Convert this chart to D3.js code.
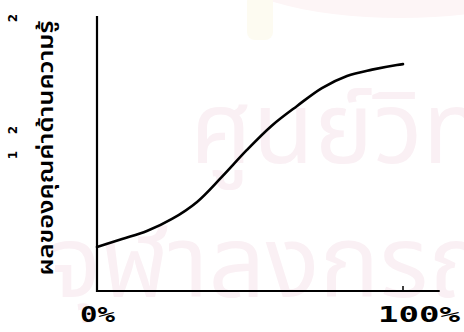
<!DOCTYPE html>
<html lang="th">
  <head>
    <meta charset="utf-8" />
    <title>Knowledge value curve</title>
    <script src="https://d3js.org/d3.v7.min.js"></script>
    <style>
      body { margin: 0; background: #fff; }
      svg { display: block; }
    </style>
  </head>
  <body>
    <div id="chart"></div>
    <script>
      // values (x in %, y in % of the axis height)
      var xPct = [0, 8.2, 16.3, 24.5, 32.7, 40.8, 49.0, 57.2, 65.4, 73.5, 81.7, 89.9, 98.0, 100];
      var yVal = [16.0, 18.9, 21.8, 26.2, 32.4, 41.5, 51.3, 60.2, 67.3, 73.8, 78.2, 80.5, 82.2, 82.5];
      var tickLabels = ["0%", "100%"];
      var yLabel = "ผลของคุณค่าด้านความรู้";

      var width = 464, height = 332;
      var thai = "'Noto Sans Thai', 'Noto Sans', 'DejaVu Sans', sans-serif";
      var mono = "'DejaVu Sans Mono', monospace";

      var svg = d3.select("#chart").append("svg")
        .attr("width", width)
        .attr("height", height);

      // faint library watermark of the scanned page
      var wm = svg.append("g");
      wm.append("ellipse")
        .attr("cx", 400).attr("cy", -34).attr("rx", 175).attr("ry", 52)
        .attr("fill", "#fdf5f6");
      wm.append("rect")
        .attr("x", 247).attr("y", -6).attr("width", 26).attr("height", 46).attr("rx", 8)
        .attr("fill", "#fdfbf1");
      wm.append("text")
        .attr("x", 190).attr("y", 163)
        .attr("fill", "#faf0f4")
        .style("font-family", thai)
        .style("font-size", "100px")
        .text("ศูนย์วิทย");
      wm.append("text")
        .attr("x", 48).attr("y", 297)
        .attr("fill", "#faf0f4")
        .style("font-family", thai)
        .style("font-size", "100px")
        .text("จุฬาลงกรณ์");

      var x = d3.scaleLinear().domain([0, 100]).range([97, 403]);
      var y = d3.scaleLinear().domain([0, 100]).range([291, 16]);

      var data = xPct.map(function (d, i) {
        return { x: d, y: yVal[i] };
      });

      // axes
      svg.append("line")
        .attr("x1", x(0)).attr("x2", x(0))
        .attr("y1", y(100)).attr("y2", y(0) + 1)
        .attr("stroke", "#000").attr("stroke-width", 2.2);

      svg.append("line")
        .attr("x1", x(0)).attr("x2", x(112))
        .attr("y1", y(0)).attr("y2", y(0))
        .attr("stroke", "#000").attr("stroke-width", 2);

      svg.append("line")
        .attr("x1", x(100)).attr("x2", x(100))
        .attr("y1", y(0)).attr("y2", y(0) - 5)
        .attr("stroke", "#000").attr("stroke-width", 1.5);

      // tick labels
      svg.append("text")
        .attr("x", x(0) - 17).attr("y", 322)
        .attr("textLength", 35)
        .attr("lengthAdjust", "spacingAndGlyphs")
        .style("font-family", mono)
        .style("font-size", "22px")
        .style("font-weight", "bold")
        .text(tickLabels[0]);

      svg.append("text")
        .attr("x", x(100) - 25).attr("y", 322)
        .attr("textLength", 82)
        .attr("lengthAdjust", "spacingAndGlyphs")
        .style("font-family", mono)
        .style("font-size", "22px")
        .style("font-weight", "bold")
        .text(tickLabels[1]);

      // rotated y label
      svg.append("text")
        .attr("transform", "translate(53," + 148 + ") rotate(-90)")
        .attr("text-anchor", "middle")
        .attr("textLength", 255)
        .attr("lengthAdjust", "spacingAndGlyphs")
        .style("font-family", thai)
        .style("font-size", "22px")
        .style("font-weight", "600")
        .text(yLabel);

      // stray marks of the cut-off line above
      var marks = [["2", 18], ["2", 130], ["1", 155]];
      marks.forEach(function (m) {
        svg.append("text")
          .attr("transform", "translate(17," + m[1] + ") rotate(-90)")
          .attr("text-anchor", "middle")
          .style("font-family", "'DejaVu Sans', sans-serif")
          .style("font-size", "12px")
          .style("font-weight", "bold")
          .text(m[0]);
      });

      // curve
      svg.append("path")
        .datum(data)
        .attr("fill", "none")
        .attr("stroke", "#000")
        .attr("stroke-width", 2.6)
        .attr("stroke-linecap", "round")
        .attr("d", d3.line()
          .curve(d3.curveCatmullRom.alpha(0.5))
          .x(function (d) { return x(d.x); })
          .y(function (d) { return y(d.y); }));
    </script>
  </body>
</html>
